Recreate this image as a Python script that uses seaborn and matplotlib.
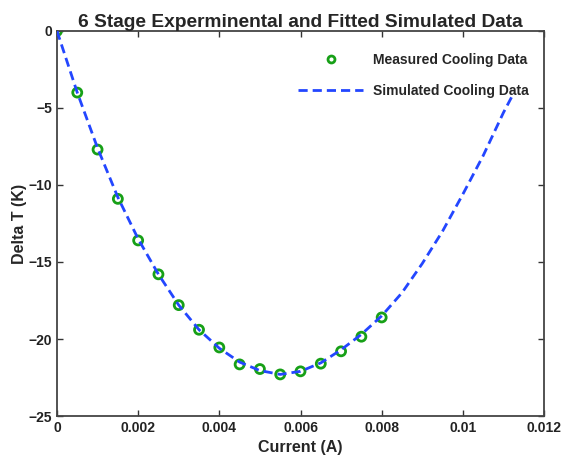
import numpy as np
import pandas as pd
import seaborn as sns
import matplotlib.pyplot as plt
from matplotlib.lines import Line2D

# measured cooling data (current in A, delta T in K)
meas_current = [0.0, 0.0005, 0.001, 0.0015, 0.002, 0.0025, 0.003, 0.0035, 0.004,
                0.0045, 0.005, 0.0055, 0.006, 0.0065, 0.007, 0.0075, 0.008]
meas_dt = [0.0, -4.0, -7.7, -10.9, -13.6, -15.8, -17.8, -19.4, -20.55,
           -21.65, -21.95, -22.3, -22.1, -21.6, -20.8, -19.85, -18.6]

# simulated (fitted) curve
sim_current = [0.0, 0.0005, 0.001, 0.0015, 0.002, 0.0025, 0.003, 0.0035, 0.004,
               0.0045, 0.005, 0.0055, 0.006, 0.0065, 0.007, 0.0075, 0.008,
               0.0085, 0.009, 0.0095, 0.01, 0.0105, 0.011, 0.0112]
sim_dt = [0.0, -4.0, -7.6, -10.8, -13.5, -15.8, -17.8, -19.4, -20.6,
          -21.5, -22.05, -22.3, -22.1, -21.55, -20.7, -19.7, -18.5,
          -17.0, -15.1, -13.0, -10.6, -8.1, -5.3, -4.3]

xticks = [0, 0.002, 0.004, 0.006, 0.008, 0.01, 0.012]
xtick_labels = ['0', '0.002', '0.004', '0.006', '0.008', '0.01', '0.012']
yticks = [0, -5, -10, -15, -20, -25]

meas = pd.DataFrame({'Current': meas_current, 'dT': meas_dt})
sim = pd.DataFrame({'Current': sim_current, 'dT': sim_dt})

sns.set_style('ticks')
plt.rcParams['font.family'] = ['Liberation Sans', 'DejaVu Sans']
plt.rcParams['font.weight'] = 'bold'

fig = plt.figure(figsize=(5.63, 4.57), dpi=100)
ax = fig.add_axes([0.1012, 0.0897, 0.8651, 0.8425])

green = '#17a017'
blue = '#2346ff'
dash = [3.3, 1.8]

sns.scatterplot(data=meas, x='Current', y='dT', ax=ax, marker='o', s=42,
                facecolor='none', edgecolor=green, linewidth=2.0, zorder=2,
                legend=False)
sns.lineplot(data=sim, x='Current', y='dT', ax=ax, color=blue, linewidth=2.0,
             zorder=3, legend=False)
ax.lines[-1].set_dashes(dash)

ax.set_xlim(0, 0.012)
ax.set_ylim(-25, 0)
ax.set_xticks(xticks)
ax.set_xticklabels(xtick_labels)
ax.set_yticks(yticks)
ax.tick_params(direction='in', top=True, right=True, length=4, width=1,
               labelsize=10, colors='#333333', pad=3.5)
for lab in ax.get_xticklabels() + ax.get_yticklabels():
    lab.set_fontweight('bold')
    lab.set_color('#222222')
for sp in ax.spines.values():
    sp.set_color('#444444')
    sp.set_linewidth(1.3)

ax.set_title('6 Stage Experminental and Fitted Simulated Data', fontsize=13.8,
             fontweight='bold', pad=3)
ax.set_xlabel('Current (A)', fontsize=11.5, fontweight='bold', labelpad=4)
ax.set_ylabel('Delta T (K)', fontsize=11.5, fontweight='bold', labelpad=1)

handles = [
    Line2D([], [], marker='o', linestyle='none', markerfacecolor='none',
           markeredgecolor=green, markeredgewidth=2, markersize=5),
    Line2D([], [], color=blue, linewidth=2.0, dashes=dash),
]
ax.legend(handles, ['Measured Cooling Data', 'Simulated Cooling Data'],
          loc='upper right', bbox_to_anchor=(0.981, 0.957), borderaxespad=0,
          frameon=False, handlelength=4.7, handletextpad=0.72,
          labelspacing=1.2, prop={'weight': 'bold', 'size': 10})

fig.savefig('out.png', dpi=100, facecolor='white')
